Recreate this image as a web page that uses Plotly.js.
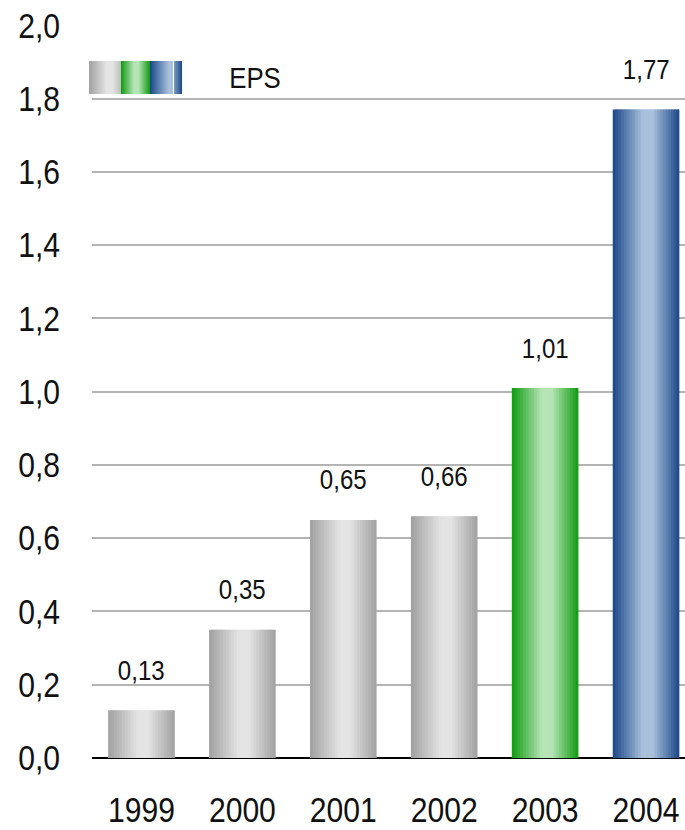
<!DOCTYPE html>
<html>
<head>
<meta charset="utf-8">
<script src="https://cdn.plot.ly/plotly-3.0.1.min.js"></script>
<style>
  html, body { margin: 0; padding: 0; background: #ffffff; }
  #chart { width: 685px; height: 830px; }
</style>
</head>
<body>
<div id="chart"></div>
<script>
// ---- data ----
const years = ['1999', '2000', '2001', '2002', '2003', '2004'];
const eps = [0.13, 0.35, 0.65, 0.66, 1.01, 1.77];
const paletteOf = ['gray', 'gray', 'gray', 'gray', 'green', 'blue'];
const seriesName = 'EPS';
const yTickVals = [0, 0.2, 0.4, 0.6, 0.8, 1.0, 1.2, 1.4, 1.6, 1.8, 2.0];

// ---- styling ----
const FONT = '"Liberation Sans", Arial, sans-serif';
const NARROW = 0.86; // horizontal squeeze to mimic a narrow face
const palettes = {
  gray:  { edge: [160, 160, 160], light: [228, 228, 228] },
  green: { edge: [16, 154, 16],   light: [182, 228, 182] },
  blue:  { edge: [26, 70, 136],   light: [169, 193, 219] }
};
function profile(t) {
  let f;
  if (t < 0.45) f = Math.pow(t / 0.45, 1.0);
  else if (t > 0.6) f = Math.pow((1 - t) / 0.4, 1.0);
  else f = 1;
  return Math.max(0, Math.min(1, f));
}
function colorAt(pal, t) {
  const p = palettes[pal];
  const f = profile(t);
  const c = p.edge.map((e, i) => Math.round(e + (p.light[i] - e) * f));
  return 'rgb(' + c.join(',') + ')';
}

const N = 24;
const BARW = 0.66;
const stripW = BARW / N;
const traces = [];
for (let k = 0; k < N; k++) {
  const t = (k + 0.5) / N;
  traces.push({
    type: 'bar',
    x: years,
    y: eps,
    width: k < N - 1 ? stripW * 1.8 : stripW,
    offset: -BARW / 2 + k * stripW,
    marker: { color: paletteOf.map(p => colorAt(p, t)), line: { width: 0 } },
    showlegend: false,
    hoverinfo: 'skip'
  });
}

// value labels (category axis: use the category index)
const annotations = years.map((yr, i) => ({
  x: i, y: eps[i], xref: 'x', yref: 'y',
  text: eps[i].toFixed(2).replace('.', ','),
  showarrow: false, yanchor: 'middle', yshift: 40,
  font: { family: FONT, size: 28, color: '#111111' }
}));

// legend (swatch + label), pixel geometry converted to paper coordinates
const PL = 92, PR = 685, PT = 25, PB = 758;
const px = v => (v - PL) / (PR - PL);
const py = v => (PB - v) / (PB - PT);
const shapes = [];
const swatchSegs = [
  { x0: 89,  x1: 121, pal: 'gray',  t0: 0.0,  t1: 0.82 },
  { x0: 121, x1: 150, pal: 'green', t0: 0.0,  t1: 1.0 },
  { x0: 150, x1: 173, pal: 'blue',  t0: 0.0,  t1: 0.55 },
  { x0: 174, x1: 182, pal: 'blue',  t0: 0.72, t1: 1.0 }
];
swatchSegs.forEach(s => {
  for (let xx = s.x0; xx < s.x1; xx++) {
    const t = s.t0 + (s.t1 - s.t0) * ((xx - s.x0 + 0.5) / (s.x1 - s.x0));
    shapes.push({
      type: 'rect', xref: 'paper', yref: 'paper',
      x0: px(xx), x1: px(xx + 1.05), y0: py(94), y1: py(61),
      fillcolor: colorAt(s.pal, t), line: { width: 0 }, layer: 'above'
    });
  }
});
annotations.push({
  xref: 'paper', yref: 'paper', x: px(255), y: py(77),
  xanchor: 'center', yanchor: 'middle', showarrow: false,
  text: seriesName, font: { family: FONT, size: 30, color: '#111111' }
});

const layout = {
  width: 685, height: 830,
  margin: { l: PL, r: 685 - PR, t: PT, b: 830 - PB },
  paper_bgcolor: '#ffffff', plot_bgcolor: '#ffffff',
  barmode: 'overlay',
  separators: ',.',
  showlegend: false,
  font: { family: FONT, color: '#111111' },
  xaxis: {
    type: 'category',
    range: [-0.49, 5.386],
    showgrid: false, showline: false, zeroline: false,
    ticks: 'outside', ticklen: 21, tickcolor: 'rgba(0,0,0,0)',
    tickfont: { family: FONT, size: 35, color: '#111111' },
    fixedrange: true
  },
  yaxis: {
    range: [0, 2.001],
    tickvals: yTickVals,
    tickformat: '.1f',
    showgrid: true, gridcolor: '#b4b4b4', gridwidth: 2,
    zeroline: true, zerolinecolor: '#000000', zerolinewidth: 2,
    showline: false,
    ticks: 'outside', ticklen: 24, tickcolor: 'rgba(0,0,0,0)',
    tickfont: { family: FONT, size: 35, color: '#111111' },
    fixedrange: true
  },
  shapes: shapes,
  annotations: annotations
};

Plotly.newPlot('chart', traces, layout, { displayModeBar: false, staticPlot: true }).then(gd => {
  gd.querySelectorAll('svg text').forEach(el => {
    const bb = el.getBBox();
    if (!bb.width) return;
    const anchor = el.getAttribute('text-anchor') || 'start';
    const ax = anchor === 'end' ? bb.x + bb.width : (anchor === 'middle' ? bb.x + bb.width / 2 : bb.x);
    const cy = bb.y + bb.height / 2;
    const prev = el.getAttribute('transform') || '';
    el.setAttribute('transform', prev + ' translate(' + ax + ',' + cy + ') scale(' + NARROW + ',1) translate(' + (-ax) + ',' + (-cy) + ')');
  });
});
</script>
</body>
</html>
